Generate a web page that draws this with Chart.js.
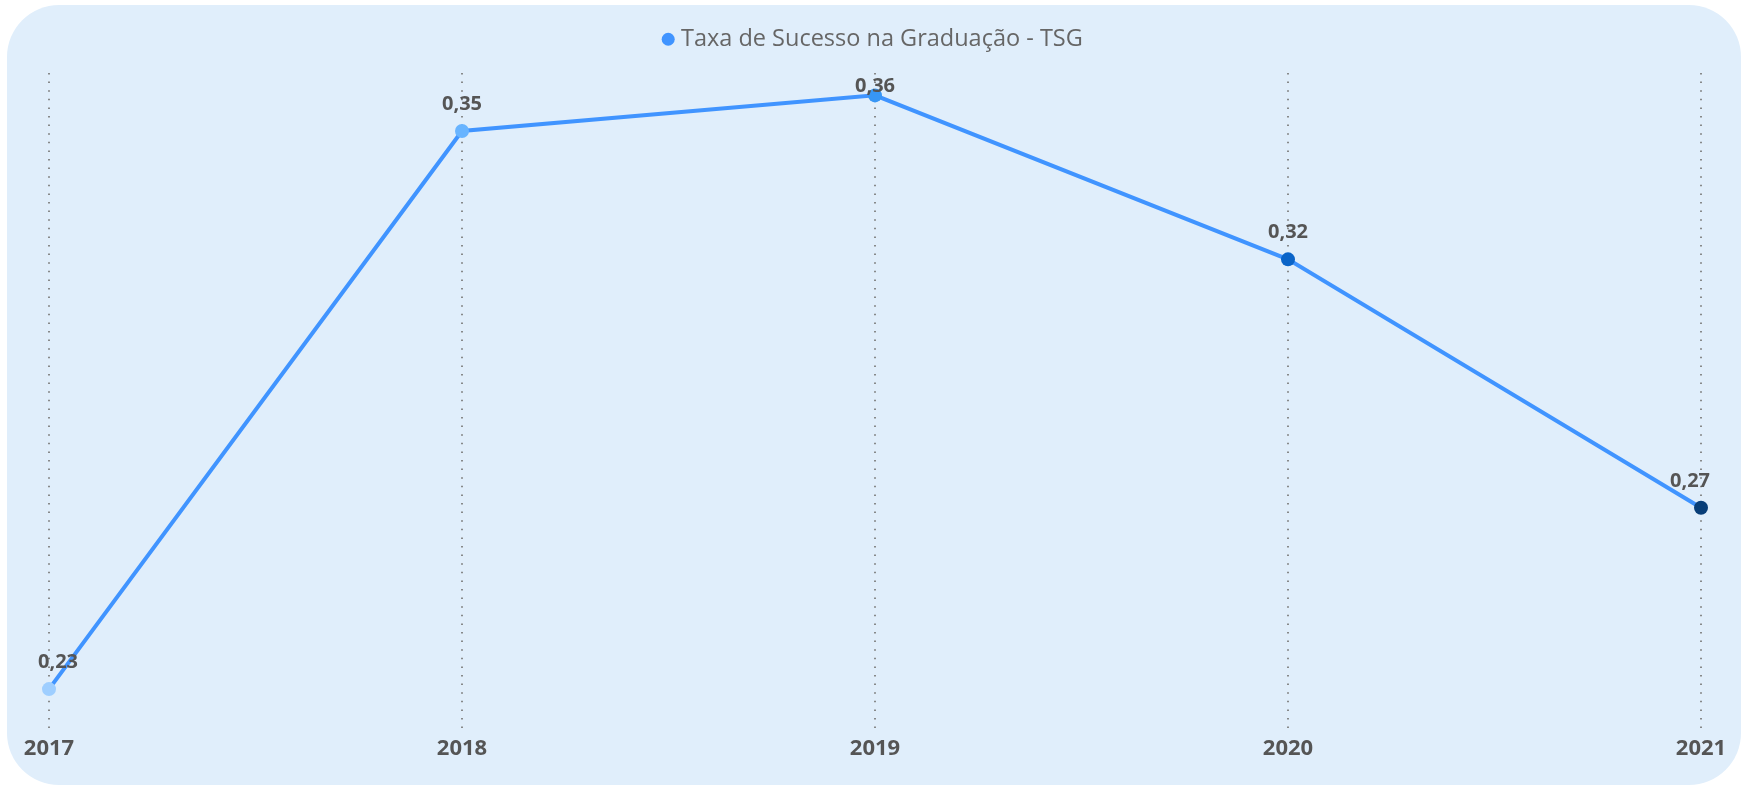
<!DOCTYPE html>
<html><head><meta charset="utf-8">
<script src="https://cdn.jsdelivr.net/npm/chart.js@4.4.1/dist/chart.umd.min.js"></script>
<style>
html,body{margin:0;padding:0;background:#fff;width:1744px;height:787px;overflow:hidden;}
#card{position:absolute;left:7px;top:5px;width:1734px;height:780px;border-radius:52px;background:#E0EEFB;}
#c{position:absolute;left:0;top:0;}
</style></head><body>
<div id="card"></div>
<canvas id="c" width="1744" height="787"></canvas>
<script>
const categories = ['2017', '2018', '2019', '2020', '2021'];
const tsgValues = [0.228, 0.3502, 0.358, 0.3221, 0.2677];
const seriesName = 'Taxa de Sucesso na Graduação - TSG';
const pointColors = ['#9ECEFF', '#68B4FF', '#3796F5', '#0A64C8', '#083E78'];
const lineColor = '#4094FF';
const yMin = 0.2194;
const yMax = 0.3629;

const fmt = v => v.toFixed(2).replace('.', ',');

const dataLabelPlugin = {
  id: 'dataLabels',
  afterDatasetsDraw(chart) {
    const ctx = chart.ctx, area = chart.chartArea;
    const meta = chart.getDatasetMeta(0);
    const vals = chart.data.datasets[0].data;
    ctx.save();
    ctx.font = 'bold 20px "Open Sans"';
    ctx.fillStyle = '#555555';
    ctx.textAlign = 'center';
    ctx.textBaseline = 'middle';
    meta.data.forEach((pt, i) => {
      const txt = fmt(vals[i]);
      const w = ctx.measureText(txt).width;
      let x = Math.max(area.left - 11 + w / 2, Math.min(area.right + 9 - w / 2, pt.x));
      let y = Math.max(pt.y - 27, area.top + 13);
      ctx.fillText(txt, x, y);
    });
    ctx.restore();
  }
};

const legendGapPlugin = {
  id: 'legendGap',
  afterInit(chart) {
    const lg = chart.legend;
    if (!lg) return;
    const orig = lg.fit;
    lg.fit = function () { orig.call(this); this.height += 12; };
  }
};

new Chart(document.getElementById('c'), {
  type: 'line',
  data: {
    labels: categories,
    datasets: [{
      label: seriesName,
      data: tsgValues,
      borderColor: lineColor,
      backgroundColor: lineColor,
      borderWidth: 4,
      pointRadius: 7,
      pointHoverRadius: 7,
      pointBorderWidth: 0,
      pointBackgroundColor: pointColors,
      pointBorderColor: pointColors,
      tension: 0,
      clip: false
    }]
  },
  options: {
    responsive: false,
    animation: false,
    devicePixelRatio: 1,
    layout: { padding: { top: 5, left: 49, right: 43, bottom: 18.6 } },
    plugins: {
      tooltip: { enabled: false },
      legend: {
        display: true,
        position: 'top',
        align: 'center',
        labels: {
          font: { family: '"Open Sans"', size: 23.5 },
          color: '#666666',
          padding: 22.5,
          usePointStyle: true,
          pointStyle: 'circle',
          boxHeight: 9.2,
          boxWidth: 2,
          generateLabels(chart) {
            const items = Chart.defaults.plugins.legend.labels.generateLabels(chart);
            items.forEach(it => { it.fillStyle = lineColor; it.strokeStyle = lineColor; it.lineWidth = 0; });
            return items;
          }
        }
      }
    },
    scales: {
      x: {
        offset: false,
        border: { display: false, dash: [1.5, 7.1] },
        grid: {
          display: true,
          drawTicks: false,
          color: 'rgba(125,125,125,0.9)',
          lineWidth: 2
        },
        ticks: {
          font: { family: '"Open Sans"', size: 22, weight: 'bold' },
          color: '#555555',
          padding: 6.8,
          maxRotation: 0,
          autoSkip: false
        }
      },
      y: {
        display: false,
        min: yMin,
        max: yMax,
        grid: { display: false }
      }
    }
  },
  plugins: [dataLabelPlugin, legendGapPlugin]
});
</script>
</body></html>
